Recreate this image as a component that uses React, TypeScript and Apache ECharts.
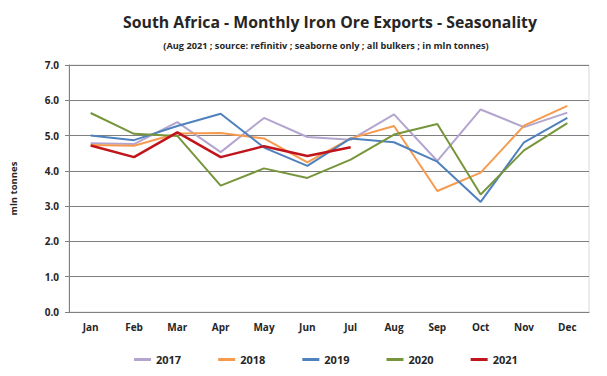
import React, { useEffect, useRef } from "react";
import * as echarts from "echarts";

const months = ["Jan", "Feb", "Mar", "Apr", "May", "Jun", "Jul", "Aug", "Sep", "Oct", "Nov", "Dec"];
const y2017 = [4.78, 4.76, 5.38, 4.53, 5.5, 4.96, 4.88, 5.6, 4.28, 5.74, 5.24, 5.65];
const y2018 = [4.73, 4.71, 5.06, 5.07, 4.92, 4.24, 4.92, 5.27, 3.43, 3.95, 5.28, 5.84];
const y2019 = [5.0, 4.87, 5.27, 5.62, 4.66, 4.14, 4.92, 4.81, 4.26, 3.12, 4.81, 5.5];
const y2020 = [5.64, 5.05, 4.99, 3.58, 4.07, 3.8, 4.32, 5.03, 5.33, 3.33, 4.58, 5.35];
const y2021 = [4.72, 4.39, 5.09, 4.39, 4.7, 4.42, 4.67];
const yTicks = [0, 1, 2, 3, 4, 5, 6, 7];

const seriesDefs = [
  { name: "2017", data: y2017, color: "#B3A5CF", width: 2 },
  { name: "2018", data: y2018, color: "#F79A4E", width: 2 },
  { name: "2019", data: y2019, color: "#4F81BD", width: 2 },
  { name: "2020", data: y2020, color: "#77963C", width: 2 },
  { name: "2021", data: y2021, color: "#C0151C", width: 2.5 },
];

const FONT = "'Open Sans', 'Noto Sans', sans-serif";

export default function App() {
  const ref = useRef<HTMLDivElement>(null);
  useEffect(() => {
    if (!ref.current) return;
    const chart = echarts.init(ref.current, null, { renderer: "svg" });
    chart.setOption({
      animation: false,
      backgroundColor: "#ffffff",
      title: [
        {
          text: "South Africa - Monthly Iron Ore Exports - Seasonality",
          left: 325,
          top: 9,
          textAlign: "center",
          textStyle: { fontFamily: FONT, fontSize: 15.8, fontWeight: "bold", color: "#262626" },
        },
        {
          text: "(Aug 2021 ; source: refinitiv ; seaborne only ; all bulkers ; in mln tonnes)",
          left: 321,
          top: 36,
          textAlign: "center",
          textStyle: { fontFamily: FONT, fontSize: 9.2, fontWeight: "bold", color: "#262626" },
        },
      ],
      legend: {
        top: 349,
        left: 129,
        itemGap: 37,
        itemWidth: 17,
        itemHeight: 3,
        icon: "rect",
        textStyle: { fontFamily: FONT, fontSize: 11, fontWeight: "bold", color: "#262626" },
        data: seriesDefs.map((s) => s.name),
      },
      grid: {
        left: 63,
        right: 18,
        top: 65,
        bottom: 64,
        show: true,
        borderColor: "#d9d9d9",
        borderWidth: 1,
      },
      xAxis: {
        type: "category",
        data: months,
        boundaryGap: true,
        axisLine: { show: true, lineStyle: { color: "#808080", width: 1 } },
        axisTick: { show: false },
        axisLabel: { margin: 10, fontFamily: FONT, fontSize: 10, fontWeight: "bold", color: "#262626" },
      },
      yAxis: {
        type: "value",
        min: 0,
        max: 7,
        interval: 1,
        name: "mln tonnes",
        nameLocation: "middle",
        nameGap: 51,
        nameTextStyle: { fontFamily: FONT, fontSize: 9.5, fontWeight: "bold", color: "#262626" },
        axisLine: { show: true, lineStyle: { color: "#808080", width: 1 } },
        axisTick: { show: true, length: 4, lineStyle: { color: "#808080" } },
        splitLine: { show: true, lineStyle: { color: "#7f7f7f", width: 1 } },
        axisLabel: {
          margin: 10,
          fontFamily: FONT,
          fontSize: 10,
          fontWeight: "bold",
          color: "#262626",
          formatter: (v: number) => (yTicks.includes(v) ? v.toFixed(1) : ""),
        },
      },
      series: seriesDefs.map((s) => ({
        name: s.name,
        type: "line",
        data: s.data,
        showSymbol: false,
        symbol: "none",
        itemStyle: { color: s.color },
        lineStyle: { color: s.color, width: s.width },
      })),
    });
    return () => chart.dispose();
  }, []);
  return <div ref={ref} style={{ width: 607, height: 376, position: "absolute", left: 0, top: 0 }} />;
}
